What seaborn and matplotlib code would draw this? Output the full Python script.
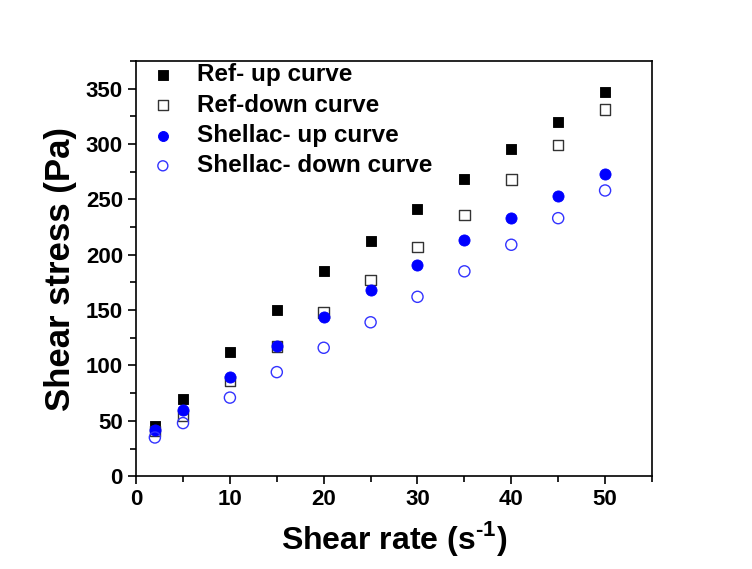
import matplotlib
matplotlib.use("Agg")
import matplotlib.pyplot as plt
from matplotlib.ticker import MultipleLocator
import seaborn as sns
import pandas as pd

# shear rate points (s-1)
shear_rate = [2, 5, 10, 15, 20, 25, 30, 35, 40, 45, 50]

# shear stress (Pa)
ref_up = [45, 70, 112, 150, 185, 212, 241, 268, 295, 320, 347]
ref_down = [41, 55, 86, 117, 148, 177, 207, 236, 268, 299, 331]
shellac_up = [42, 60, 90, 118, 144, 168, 191, 213, 233, 253, 273]
shellac_down = [35, 48, 71, 94, 116, 139, 162, 185, 209, 233, 258]

labels = ["Ref- up curve", "Ref-down curve", "Shellac- up curve", "Shellac- down curve"]

sns.set_style("ticks")
plt.rcParams['font.family'] = ['Liberation Sans', 'DejaVu Sans']
plt.rcParams['font.weight'] = 'bold'
plt.rcParams['text.color'] = 'black'
plt.rcParams['axes.labelcolor'] = 'black'
plt.rcParams['xtick.color'] = 'black'
plt.rcParams['ytick.color'] = 'black'
plt.rcParams['mathtext.fontset'] = 'custom'
plt.rcParams['mathtext.rm'] = 'Liberation Sans:bold'
plt.rcParams['mathtext.bf'] = 'Liberation Sans:bold'

fig = plt.figure(figsize=(7.52, 5.69), dpi=100)
ax = fig.add_axes([0.181, 0.163, 0.686, 0.730])

styles = [
    dict(marker="s", color="black", edgecolor="black", s=62),
    dict(marker="s", color="none", edgecolor="#333333", s=58, linewidth=1.0),
    dict(marker="o", color="#0000ff", edgecolor="#0000ff", s=64),
    dict(marker="o", color="none", edgecolor="#3333ff", s=64, linewidth=1.0),
]

for vals, lab, st in zip([ref_up, ref_down, shellac_up, shellac_down], labels, styles):
    df = pd.DataFrame({"rate": shear_rate, "stress": vals})
    sns.scatterplot(data=df, x="rate", y="stress", ax=ax, label=lab, **st)

ax.set_xlim(0, 55)
ax.set_ylim(0, 375)
ax.xaxis.set_major_locator(MultipleLocator(10))
ax.xaxis.set_minor_locator(MultipleLocator(5))
ax.yaxis.set_major_locator(MultipleLocator(50))
ax.yaxis.set_minor_locator(MultipleLocator(25))
ax.tick_params(which="major", length=6, width=1.2, labelsize=16, direction="out")
ax.tick_params(which="minor", length=4, width=1.2, direction="out")
for sp in ax.spines.values():
    sp.set_linewidth(1.2)
    sp.set_color("black")

ax.set_xlabel(r"Shear rate (s$^{\text{-1}}$)", fontsize=23, fontweight="bold", labelpad=6)
ax.set_ylabel("Shear stress (Pa)", fontsize=25, fontweight="bold", labelpad=6)

leg = ax.legend(loc="upper left", frameon=False, fontsize=17.5, handletextpad=0.4,
                labelspacing=0.3, borderaxespad=0.0, borderpad=0.1,
                markerscale=0.9)

fig.savefig("out.png", dpi=100)
